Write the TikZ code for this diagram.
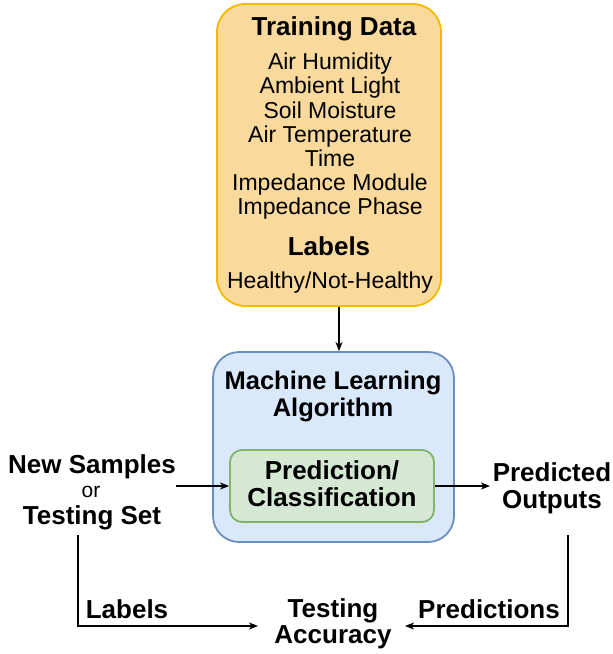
\documentclass[tikz,border=0pt]{standalone}
\usepackage{fontspec}
\setmainfont{Liberation Sans}
\usetikzlibrary{arrows.meta}
\definecolor{yfill}{HTML}{F9D99C}
\definecolor{ydraw}{HTML}{F5B800}
\definecolor{bfill}{HTML}{DAE8FC}
\definecolor{bdraw}{HTML}{6C8EBF}
\definecolor{gfill}{HTML}{D5E8D4}
\definecolor{gdraw}{HTML}{82B366}
\begin{document}
\begin{tikzpicture}[x=1pt,y=-1pt,
  reg/.style={font=\fontsize{23}{24}\selectfont, anchor=base, inner sep=0pt},
  bld/.style={font=\fontsize{26}{28}\selectfont\bfseries, anchor=base, inner sep=0pt},
  box/.style={draw, line width=1.8pt, inner sep=0pt},
  arr/.style={line width=1.2pt, -{Stealth[length=9pt,width=7pt,inset=2.5pt]}}
]
\useasboundingbox (0,0) rectangle (613,654);
% boxes
\node[box, fill=yfill, draw=ydraw, rounded corners=28pt, minimum width=224pt, minimum height=302pt] (train) at (329,155) {};
\node[box, fill=bfill, draw=bdraw, rounded corners=26pt, minimum width=241pt, minimum height=190pt] (ml) at (333.5,447) {};
\node[box, fill=gfill, draw=gdraw, rounded corners=12pt, minimum width=204pt, minimum height=72pt] (pred) at (332,486) {};
% training data text
\node[bld] (td) at (334,35) {Training Data};
\node[reg] (t1) at (330,69) {Air Humidity};
\node[reg] (t2) at (330,93) {Ambient Light};
\node[reg] (t3) at (330,118) {Soil Moisture};
\node[reg] (t4) at (330,142) {Air Temperature};
\node[reg] (t5) at (330,166) {Time};
\node[reg] (t6) at (330,190) {Impedance Module};
\node[reg] (t7) at (330,214) {Impedance Phase};
\node[bld] (lb) at (329,255) {Labels};
\node[reg] (t8) at (330,288) {Healthy/Not-Healthy};
% ML text
\node[bld, font=\fontsize{25.5}{28}\selectfont\bfseries] (ml1) at (333,389) {Machine Learning};
\node[bld, font=\fontsize{25.5}{28}\selectfont\bfseries] (ml2) at (333,416) {Algorithm};
\node[bld] (p1) at (332,479) {Prediction/};
\node[bld] (p2) at (332,506) {Classification};
% left texts
\node[bld] (ns1) at (92,473) {New Samples};
\node[reg, font=\fontsize{21}{24}\selectfont] (ns2) at (91,497) {or};
\node[bld] (ns3) at (92,524) {Testing Set};
% right texts
\node[bld] (po1) at (552,481) {Predicted};
\node[bld] (po2) at (552,508) {Outputs};
% bottom
\node[bld] (ta1) at (333,617) {Testing};
\node[bld] (ta2) at (333,643) {Accuracy};
\node[bld] (lab) at (127,618) {Labels};
\node[bld] (prd) at (489,618) {Predictions};
% coordinates
\coordinate (nsE) at (176,486);
\coordinate (poW) at (490,486);
\coordinate (nsB) at (78,535);
\coordinate (poB) at (568,535);
\coordinate (accW) at (258,626);
\coordinate (accE) at (405,626);
% connectors
\draw[arr] (train.south -| 339,0) -- (ml.north -| 339,0);
\draw[arr] (nsE) -- (pred.west);
\draw[arr] (pred.east) -- (poW);
\draw[arr] (nsB) |- (accW);
\draw[arr] (poB) |- (accE);
\end{tikzpicture}
\end{document}
